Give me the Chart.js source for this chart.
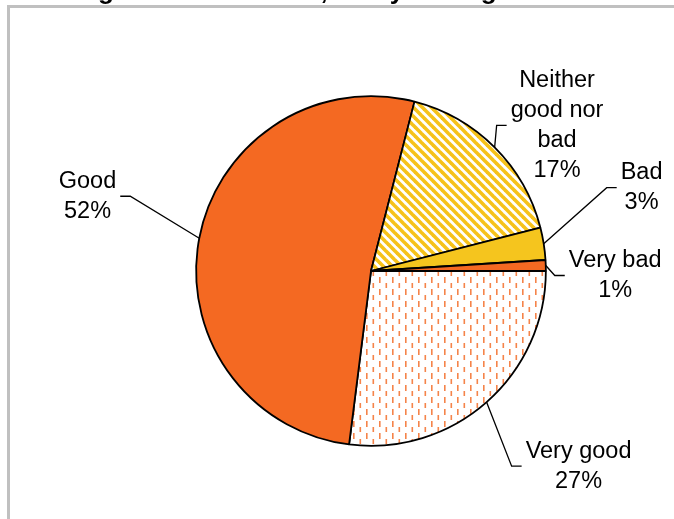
<!DOCTYPE html>
<html>
<head>
<meta charset="utf-8">
<script src="https://cdn.jsdelivr.net/npm/chart.js@4/dist/chart.umd.min.js"></script>
<style>
  html, body { margin: 0; padding: 0; background: #ffffff; }
  #wrap { position: relative; width: 674px; height: 519px; overflow: hidden; }
  canvas { display: block; }
</style>
</head>
<body>
<div id="wrap"><canvas id="c" width="674" height="519"></canvas></div>
<script>
// ---- data ----
const categories = ['Very good', 'Good', 'Neither good nor bad', 'Bad', 'Very bad'];
const shares = [27, 52, 17, 3, 1];
const labelLines = [['Very good'], ['Good'], ['Neither', 'good nor', 'bad'], ['Bad'], ['Very bad']];
const titleText = 'Rating of overall health, study setting';

// ---- layout / style (kept apart from data) ----
const leaderOffsets = [[25, 64], [-69, -42], [2, -22], [63, -56], [9, 10]];
const leaderSide = [1, -1, 1, 1, 1];
const ORANGE = '#F46922';
const YELLOW = '#F5C51E';

function makePattern(draw, w, h) {
  const c = document.createElement('canvas');
  c.width = w; c.height = h;
  const g = c.getContext('2d');
  g.fillStyle = '#ffffff';
  g.fillRect(0, 0, w, h);
  draw(g);
  return g.createPattern(c, 'repeat');
}
const stripePattern = makePattern(g => {
  g.strokeStyle = '#F6C21A';
  g.lineWidth = 3.6;
  for (let k = -18; k <= 18; k += 9) {
    g.beginPath();
    g.moveTo(k - 5, -5);
    g.lineTo(k + 14, 14);
    g.stroke();
  }
}, 9, 9);
const dashPattern = makePattern(g => {
  g.fillStyle = '#F5844A';
  g.fillRect(2, 1, 1.6, 6);
  g.fillRect(8.5, 7, 1.6, 6);
}, 13, 12);

const colors = [dashPattern, ORANGE, stripePattern, YELLOW, ORANGE];

const framePlugin = {
  id: 'frame',
  beforeDraw(chart) {
    const ctx = chart.ctx;
    ctx.save();
    ctx.fillStyle = '#ffffff';
    ctx.fillRect(0, 0, chart.width, chart.height);
    ctx.strokeStyle = '#C0C0C0';
    ctx.lineWidth = 3;
    ctx.strokeRect(8.5, 6.5, 1000, 1000);
    ctx.fillStyle = '#000000';
    ctx.font = 'bold 26px "Liberation Sans", Arial, sans-serif';
    ctx.textAlign = 'left';
    ctx.textBaseline = 'alphabetic';
    ctx.fillText(titleText, 33, -1.5);
    ctx.restore();
  }
};

const labelPlugin = {
  id: 'pieLabels',
  afterDatasetsDraw(chart) {
    const ctx = chart.ctx;
    const meta = chart.getDatasetMeta(0);
    ctx.save();
    ctx.font = '23.5px "Liberation Sans", Arial, sans-serif';
    ctx.fillStyle = '#000000';
    ctx.strokeStyle = '#000000';
    ctx.lineWidth = 1.3;
    ctx.textAlign = 'center';
    ctx.textBaseline = 'middle';
    meta.data.forEach((arc, i) => {
      const p = arc.getProps(['x', 'y', 'startAngle', 'endAngle', 'outerRadius'], true);
      const mid = (p.startAngle + p.endAngle) / 2;
      const ax = p.x + Math.cos(mid) * p.outerRadius;
      const ay = p.y + Math.sin(mid) * p.outerRadius;
      const ex = ax + leaderOffsets[i][0];
      const ey = ay + leaderOffsets[i][1];
      const side = leaderSide[i];
      const hx = ex + side * 10;
      ctx.beginPath();
      ctx.moveTo(ax, ay);
      ctx.lineTo(ex, ey);
      ctx.lineTo(hx, ey);
      ctx.stroke();
      const lines = labelLines[i].concat([shares[i] + '%']);
      const maxW = Math.max(...lines.map(t => ctx.measureText(t).width));
      const cx = hx + side * (4 + maxW / 2);
      const lh = 30;
      const top = ey - (lines.length - 1) * lh / 2;
      lines.forEach((t, j) => ctx.fillText(t, cx, top + j * lh));
    });
    ctx.restore();
  }
};

new Chart(document.getElementById('c'), {
  type: 'pie',
  data: {
    labels: categories,
    datasets: [{
      data: shares,
      backgroundColor: colors,
      borderColor: '#000000',
      borderWidth: 1.8
    }]
  },
  options: {
    responsive: false,
    animation: false,
    rotation: 90,
    layout: { padding: { left: 100, right: 32, top: 95.25, bottom: 72.25 } },
    plugins: {
      legend: { display: false },
      tooltip: { enabled: false },
      title: { display: false }
    }
  },
  plugins: [framePlugin, labelPlugin]
});
</script>
</body>
</html>
